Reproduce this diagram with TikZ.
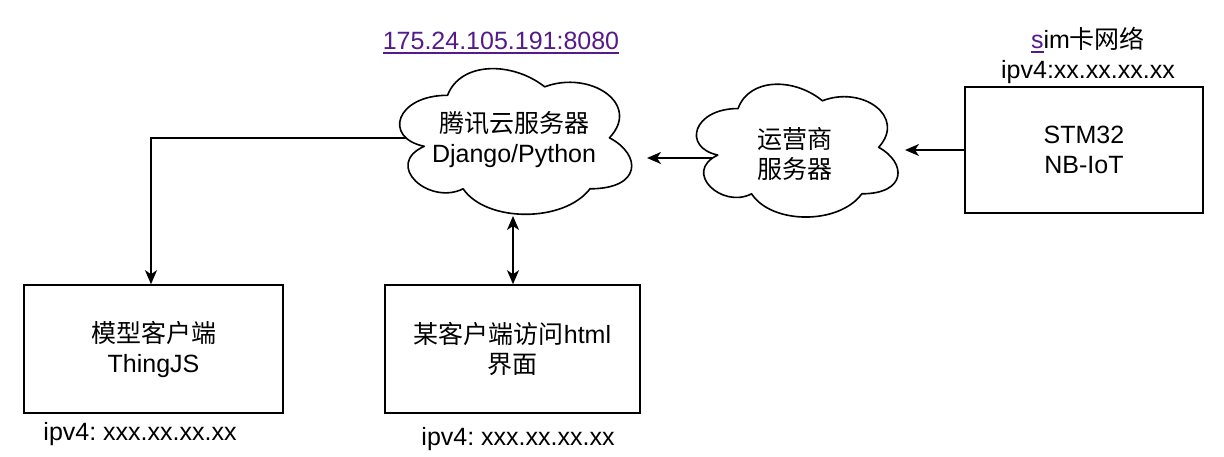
\documentclass[tikz,border=0pt]{standalone}
\usepackage{fontspec}
\setmainfont{Liberation Sans}
\newfontfamily\cjk{Noto Sans CJK SC}
\usetikzlibrary{arrows.meta}
\definecolor{linkc}{RGB}{85,26,139}
\frenchspacing
\newcommand{\ulink}[1]{\setbox0\hbox{#1}\rlap{\rule[-4.5pt]{\wd0}{1.5pt}}\box0}
\newcommand{\cloudat}[3]{%
  \begin{scope}[shift={(#1.north west)},x=#2pt,y=-#3pt]
    \draw[cloudline] (0.25,0.25) .. controls (0.05,0.25) and (0,0.5) .. (0.16,0.55)
      .. controls (0,0.66) and (0.18,0.9) .. (0.31,0.8)
      .. controls (0.4,1) and (0.7,1) .. (0.8,0.8)
      .. controls (1,0.8) and (1,0.6) .. (0.875,0.5)
      .. controls (1,0.3) and (0.8,0.1) .. (0.625,0.2)
      .. controls (0.5,0.05) and (0.3,0.05) .. (0.25,0.25) -- cycle;
  \end{scope}}
\tikzset{
  txt/.style={font=\fontsize{25}{30}\selectfont, align=center, inner sep=0pt},
  boxn/.style={draw, line width=1.6pt, minimum width=#1, txt},
  cloudgeom/.style={draw=none, inner sep=0pt},
  cloudline/.style={line width=1.6pt, fill=white, line join=round},
  arr/.style={line width=1.6pt, -{Stealth[length=14pt,width=12pt,inset=4pt]}},
  darr/.style={line width=1.6pt, {Stealth[length=14pt,width=12pt,inset=4pt]}-{Stealth[length=14pt,width=12pt,inset=4pt]}}
}
\begin{document}
\begin{tikzpicture}[x=1pt,y=-1pt]
\useasboundingbox (0,0) rectangle (1224,457);
% boxes
\node[boxn=259pt, minimum height=128pt] (lbox) at (153.5,349) {{\cjk 模型客户端}\\ThingJS};
\node[boxn=255pt, minimum height=128pt] (mbox) at (512.5,349) {{\cjk 某客户端访问}html\\{\cjk 界面}};
\node[boxn=238pt, minimum height=126pt] (sbox) at (1084,150) {STM32\\NB-IoT};
% cloud geometry
\node[cloudgeom, minimum width=259pt, minimum height=170pt] (c1) at (512.5,138) {};
\node[cloudgeom, minimum width=225pt, minimum height=155pt] (c2) at (794.5,147.5) {};
% labels
\node[txt, text=linkc] (url) at (501,43) {\ulink{175.24.105.191:8080}};
\node[txt] (sim) at (1088,55) {{\color{linkc}\ulink{s}}im{\cjk 卡网络}\\ipv4:xx.xx.xx.xx};
\node[txt] (lip) at (140,434) {ipv4: xxx.xx.xx.xx};
\node[txt] (mip) at (518,439) {ipv4: xxx.xx.xx.xx};
% connector end points
\coordinate (lx) at (151,0);
\coordinate (t1) at (647,158);
\coordinate (t2) at (905,150);
\coordinate (t3) at (513,216);
% connectors
\draw[arr] (c1.center) -| (lbox.north -| lx);
\draw[arr] (c2.center |- t1) -- (t1);
\draw[arr] (sbox.west) -- (t2);
\draw[darr] (t3) -- (mbox.north -| t3);
% clouds
\cloudat{c1}{259}{170}
\cloudat{c2}{225}{155}
\node[txt] (c1t) at (514,140) {{\cjk 腾讯云服务器}\\Django/Python};
\node[txt] (c2t) at (795,154) {{\cjk 运营商}\\{\cjk 服务器}};
\end{tikzpicture}
\end{document}
